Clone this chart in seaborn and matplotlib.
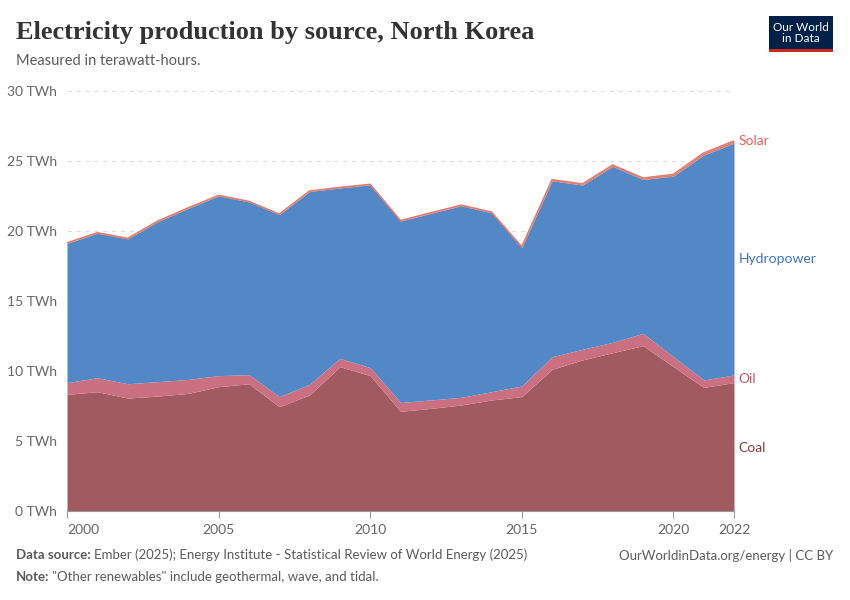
import matplotlib.pyplot as plt
import matplotlib.patches as mpatches
import seaborn as sns
import pandas as pd

years = list(range(2000, 2023))
coal = [8.33, 8.52, 8.07, 8.21, 8.40, 8.88, 9.09, 7.45, 8.29, 10.31, 9.67, 7.12,
        7.33, 7.57, 7.93, 8.17, 10.12, 10.79, 11.31, 11.81, 10.31, 8.83, 9.17]
oil = [0.84, 1.00, 1.02, 1.03, 1.00, 0.79, 0.65, 0.72, 0.76, 0.59, 0.57, 0.63,
       0.60, 0.55, 0.59, 0.76, 0.90, 0.76, 0.74, 0.88, 0.71, 0.53, 0.54]
hydro = [9.95, 10.32, 10.35, 11.44, 12.22, 12.84, 12.34, 13.00, 13.77, 12.18, 13.06, 12.96,
         13.33, 13.68, 12.78, 9.88, 12.57, 11.73, 12.57, 10.99, 12.90, 16.07, 16.57]
solar = [0.03, 0.03, 0.03, 0.03, 0.03, 0.03, 0.03, 0.03, 0.03, 0.03, 0.03, 0.03,
         0.04, 0.04, 0.05, 0.06, 0.07, 0.08, 0.09, 0.10, 0.12, 0.14, 0.15]

df = pd.DataFrame({'year': years, 'Coal': coal, 'Oil': oil,
                   'Hydropower': hydro, 'Solar': solar})

sns.set_theme(style='white')
plt.rcParams['font.family'] = ['Lato', 'DejaVu Sans']

fig = plt.figure(figsize=(8.5, 6), dpi=100)
ax = fig.add_axes([67 / 850, 1 - 511 / 600, (734 - 67) / 850, 420 / 600])

colors = ['#A05A60', '#CA7080', '#5388C7', '#E07B6E']
ax.stackplot(df['year'], df['Coal'], df['Oil'], df['Hydropower'], df['Solar'],
             colors=colors, linewidth=0)
df['total'] = df['Coal'] + df['Oil'] + df['Hydropower'] + df['Solar']
sns.lineplot(data=df, x='year', y='total', color='#E07B6E', linewidth=1.2, ax=ax)

ax.set_xlim(2000, 2022)
ax.set_ylim(0, 30)
ax.set_yticks([0, 5, 10, 15, 20, 25, 30])
ax.set_yticklabels([f'{v} TWh' for v in [0, 5, 10, 15, 20, 25, 30]])
ax.set_xticks([2000, 2005, 2010, 2015, 2020, 2022])
ax.set_xticklabels(['2000', '2005', '2010', '2015', '2020', '2022'])
ax.set_xlabel('')
ax.set_ylabel('')
ax.grid(axis='y', color='#dddddd', linestyle=(0, (4, 4)), linewidth=0.8)
ax.set_axisbelow(True)
for s in ['top', 'right', 'left']:
    ax.spines[s].set_visible(False)
ax.spines['bottom'].set_color('#999999')
ax.spines['bottom'].set_linewidth(0.8)
ax.tick_params(axis='y', length=0, pad=7, labelsize=10, labelcolor='#666666')
ax.tick_params(axis='x', bottom=True, length=5, color='#999999', width=0.8,
               pad=4, labelsize=10, labelcolor='#666666')
labs = ax.get_xticklabels()
labs[0].set_horizontalalignment('left')

# right-hand series labels
lx = 2022.15
ax.text(lx, 26.45, 'Solar', color='#E0645A', fontsize=10, va='center')
ax.text(lx, 18.0, 'Hydropower', color='#3D72C2', fontsize=10, va='center')
ax.text(lx, 9.45, 'Oil', color='#C4526A', fontsize=10, va='center')
ax.text(lx, 4.5, 'Coal', color='#8B3A3F', fontsize=10, va='center')

fig.text(16 / 850, 1 - 32 / 600, 'Electricity production by source, North Korea',
         family=['Liberation Serif', 'DejaVu Serif'], fontsize=19, fontweight='bold',
         color='#333333', va='center', ha='left')
fig.text(16 / 850, 1 - 61 / 600, 'Measured in terawatt-hours.', fontsize=10.5,
         color='#5b5b5b', va='center', ha='left')

# logo
logo = mpatches.Rectangle((769 / 850, 1 - 52 / 600), 64 / 850, 36 / 600,
                          transform=fig.transFigure, facecolor='#002147', edgecolor='none')
bar = mpatches.Rectangle((769 / 850, 1 - 52 / 600), 64 / 850, 3 / 600,
                         transform=fig.transFigure, facecolor='#CE261E', edgecolor='none')
fig.patches.extend([logo, bar])
fig.text(801 / 850, 1 - 33 / 600, 'Our World\nin Data', color='white', fontsize=8.5,
         ha='center', va='center', linespacing=1.0)

# footer: bold lead-in followed by normal text
renderer = fig.canvas.get_renderer()


def footer(y, lead, rest):
    t = fig.text(16 / 850, 1 - y / 600, lead, fontsize=9.5, fontweight='bold',
                 color='#5b5b5b', va='center')
    bb = t.get_window_extent(renderer)
    fig.text(bb.x1 / 850 + 3 / 850, 1 - y / 600, rest, fontsize=9.5,
             color='#5b5b5b', va='center')


footer(555, 'Data source:', 'Ember (2025); Energy Institute - Statistical Review of World Energy (2025)')
footer(577, 'Note:', '"Other renewables" include geothermal, wave, and tidal.')
fig.text(833 / 850, 1 - 555 / 600, 'OurWorldinData.org/energy | CC BY', fontsize=9.5,
         color='#5b5b5b', va='center', ha='right')

plt.savefig('out.png', dpi=100)
